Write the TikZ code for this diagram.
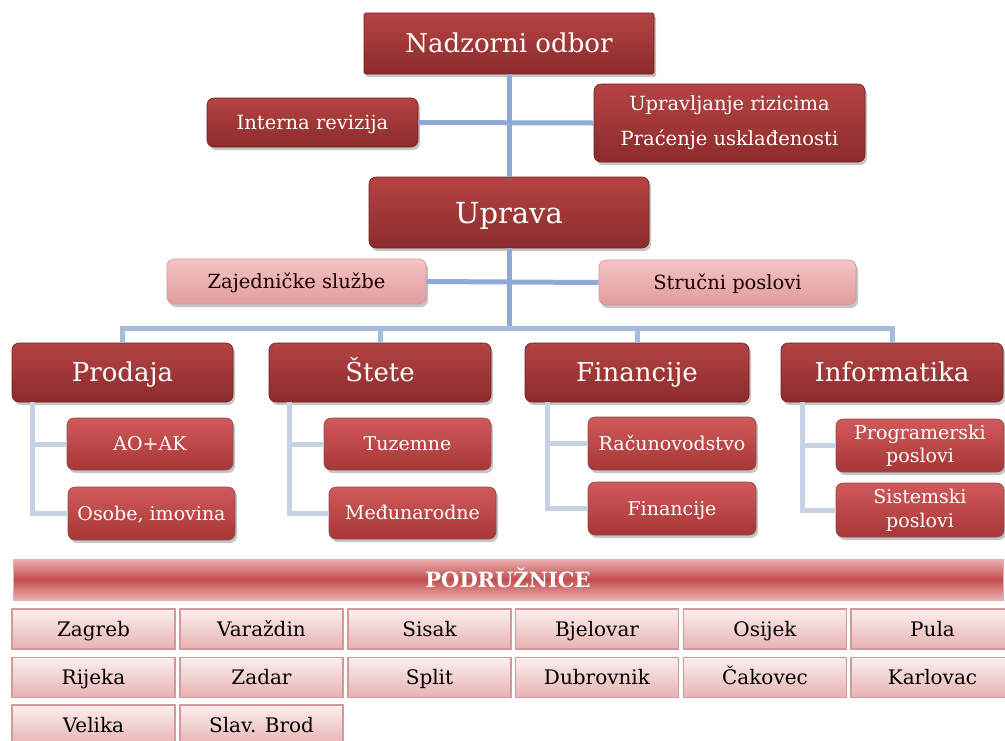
\documentclass[tikz,border=0pt]{standalone}
\usepackage{fontspec}
\setmainfont{DejaVu Serif}
\usetikzlibrary{shadows,calc}
\newcommand{\mytxt}[1]{\vphantom{A}\smash{#1}}
\definecolor{dredtop}{HTML}{B54444}
\definecolor{dredbot}{HTML}{8C2B2B}
\definecolor{dredline}{HTML}{6E1E1E}
\definecolor{sredtop}{HTML}{D05A5A}
\definecolor{sredbot}{HTML}{A83636}
\definecolor{pinktop}{HTML}{F4C4C4}
\definecolor{pinkbot}{HTML}{E29C9C}
\definecolor{trunkc}{HTML}{8FAAD6}
\definecolor{busc}{HTML}{A6BADC}
\definecolor{subc}{HTML}{C6D1E6}
\definecolor{celledge}{HTML}{D29A9A}
\definecolor{cellbot}{HTML}{E8B2B2}
\definecolor{celltop}{HTML}{FBEFEF}
\definecolor{bannermid}{HTML}{C24E4E}
\definecolor{bannerout}{HTML}{EBB0B0}
\tikzset{
  boxbase/.style={line width=0.6pt, rounded corners=7pt, align=center, inner sep=2pt,
    drop shadow={opacity=0.45, shadow xshift=2pt, shadow yshift=-3pt}},
  redbox/.style={boxbase, draw=dredline, top color=dredtop, bottom color=dredbot, text=white},
  subbox/.style={boxbase, draw=dredline!80, top color=sredtop, bottom color=sredbot, text=white},
  pinkbox/.style={boxbase, draw=celledge, top color=pinktop, bottom color=pinkbot, text=black!90!red},
  cellbox/.style={draw=celledge, line width=1.4pt, top color=celltop, middle color=white,
    bottom color=cellbot, minimum width=163pt, minimum height=40pt, inner sep=0pt,
    text=black, font=\fontsize{20}{22}\selectfont},
  trunk/.style={draw=trunkc, line width=5pt},
  busline/.style={draw=busc, line width=5pt},
  subline/.style={draw=subc, line width=5pt},
  bigf/.style={font=\fontsize{26}{30}\selectfont},
  upf/.style={font=\fontsize{29}{32}\selectfont},
  divf/.style={font=\fontsize{26}{30}\selectfont},
  midf/.style={font=\fontsize{19.5}{22}\selectfont},
  subf/.style={font=\fontsize{19}{22}\selectfont},
}
\begin{document}
\begin{tikzpicture}[x=1pt,y=-1pt]
\useasboundingbox (0,0) rectangle (1005,740);
\clip (0,0) rectangle (1005,740);
\fill[white] (0,0) rectangle (1005,740);

% top level
\node[redbox, bigf, rounded corners=1.5pt, minimum width=290pt, minimum height=61pt] (nad) at (509,43.5) {\mytxt{Nadzorni odbor}};
\node[redbox, midf, minimum width=211pt, minimum height=49pt] (int) at (312.5,122.5) {\mytxt{Interna revizija}};
\node[redbox, font=\fontsize{19.5}{35}\selectfont, minimum width=271pt, minimum height=78pt] (riz) at (729.5,123) {Upravljanje rizicima\\Praćenje usklađenosti};
\node[redbox, upf, minimum width=280pt, minimum height=71pt] (upr) at (509,212.5) {\mytxt{Uprava}};
\node[pinkbox, midf, minimum width=259pt, minimum height=45pt] (zaj) at (296.5,281.5) {\mytxt{Zajedničke službe}};
\node[pinkbox, midf, minimum width=257pt, minimum height=45pt] (str) at (727.5,282.5) {\mytxt{Stručni poslovi}};

% divisions
\node[redbox, divf, minimum width=221pt, minimum height=59pt] (prod) at (122.5,372.5) {\mytxt{Prodaja}};
\node[redbox, divf, minimum width=222pt, minimum height=59pt] (stet) at (380,372.5) {\mytxt{Štete}};
\node[redbox, divf, minimum width=224pt, minimum height=59pt] (fin) at (637,372.5) {\mytxt{Financije}};
\node[redbox, divf, minimum width=222pt, minimum height=59pt] (info) at (892,372.5) {\mytxt{Informatika}};

% sub units
\node[subbox, subf, minimum width=166pt, minimum height=52pt] (aoak) at (150,444) {\mytxt{AO+AK}};
\node[subbox, subf, minimum width=167pt, minimum height=53pt] (osob) at (151.5,513.5) {\mytxt{Osobe, imovina}};
\node[subbox, subf, minimum width=167pt, minimum height=52pt] (tuz) at (407.5,444) {\mytxt{Tuzemne}};
\node[subbox, subf, minimum width=167pt, minimum height=52pt] (medj) at (412.5,513) {\mytxt{Međunarodne}};
\node[subbox, subf, minimum width=168pt, minimum height=53pt] (rac) at (672,443.5) {\mytxt{Računovodstvo}};
\node[subbox, subf, minimum width=168pt, minimum height=53pt] (fin2) at (672,508.5) {\mytxt{Financije}};
\node[subbox, font=\fontsize{19}{23.5}\selectfont, minimum width=168pt, minimum height=53pt] (prog) at (920,445.5) {Programerski\\poslovi};
\node[subbox, font=\fontsize{19}{23.5}\selectfont, minimum width=168pt, minimum height=54pt] (sis) at (920,510) {Sistemski\\poslovi};

% connectors
\draw[trunk] (nad.south) -- (upr.north);
\draw[trunk] (int.east) -- (riz.west);
\draw[trunk] (zaj.east) -- (str.west);
\coordinate (bus) at (509,328);
\draw[trunk] (upr.south) -- (bus);
\draw[busline] (prod.north) |- (bus) -| (info.north);
\draw[busline] (stet.north) -- (stet.north |- bus);
\draw[busline] (fin.north) -- (fin.north |- bus);
\coordinate (pl) at ($(prod.south west)+(21,0)$);
\coordinate (sl) at ($(stet.south west)+(21,0)$);
\coordinate (fl) at ($(fin.south west)+(23,0)$);
\coordinate (il) at ($(info.south west)+(22,0)$);
\draw[subline] (pl) |- (osob.west);
\draw[subline] (pl |- aoak.west) -- (aoak.west);
\draw[subline] (sl) |- (medj.west);
\draw[subline] (sl |- tuz.west) -- (tuz.west);
\draw[subline] (fl) |- (fin2.west);
\draw[subline] (fl |- rac.west) -- (rac.west);
\draw[subline] (il) |- (sis.west);
\draw[subline] (il |- prog.west) -- (prog.west);

% branches banner
\node[draw=bannerout, line width=0.8pt, top color=bannerout, bottom color=bannerout, middle color=bannermid,
  minimum width=990pt, minimum height=41pt, inner sep=0pt, text=white,
  font=\bfseries\fontsize{21}{24}\selectfont] (pod) at (508,579.5) {\mytxt{PODRUŽNICE}};

% cells
\node[cellbox] (c11) at (93.5,629) {\mytxt{Zagreb}};
\node[cellbox] (c12) at (261.5,629) {\mytxt{Varaždin}};
\node[cellbox] (c13) at (429.5,629) {\mytxt{Sisak}};
\node[cellbox] (c14) at (597,629) {\mytxt{Bjelovar}};
\node[cellbox] (c15) at (765,629) {\mytxt{Osijek}};
\node[cellbox] (c16) at (932.5,629) {\mytxt{Pula}};
\node[cellbox] (c21) at (93.5,677.5) {\mytxt{Rijeka}};
\node[cellbox] (c22) at (261.5,677.5) {\mytxt{Zadar}};
\node[cellbox] (c23) at (429.5,677.5) {\mytxt{Split}};
\node[cellbox] (c24) at (597,677.5) {\mytxt{Dubrovnik}};
\node[cellbox] (c25) at (765,677.5) {\mytxt{Čakovec}};
\node[cellbox] (c26) at (932.5,677.5) {\mytxt{Karlovac}};
\node[cellbox] (c31) at (93.5,725) {\mytxt{Velika}};
\node[cellbox] (c32) at (261.5,725) {\mytxt{Slav. Brod}};
\end{tikzpicture}
\end{document}
